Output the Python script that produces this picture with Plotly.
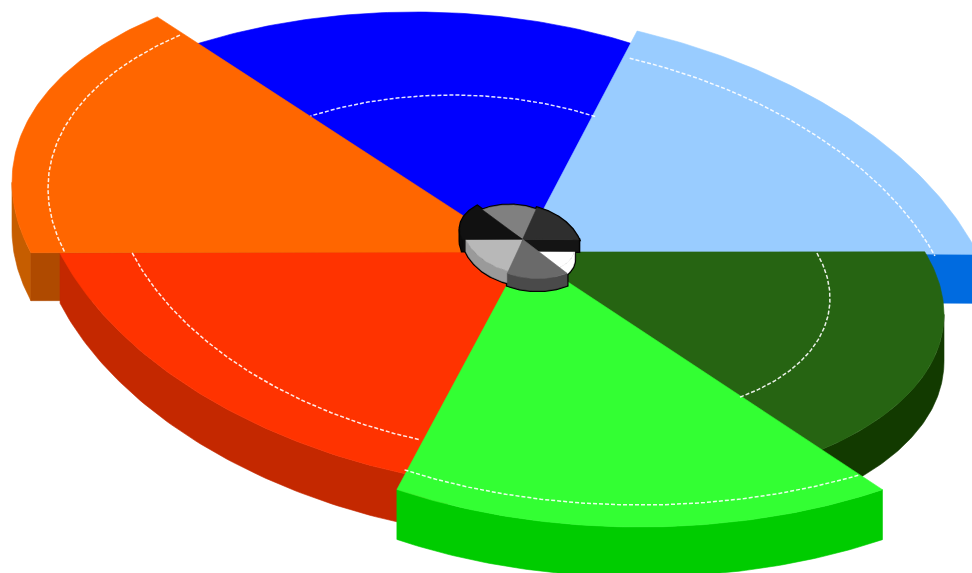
import numpy as np
import plotly.graph_objects as go

# Sector readings: angular extents (degrees)
sector_names = ["Orange", "Blue", "Light blue", "Dark green", "Green", "Red"]
theta_start = [133.7, 58.0, 76.0, 16.5, 237.3, 198.8]
theta_end = [196.3, 125.0, 17.8, -48.0, 302.6, 263.0]
ring_start = [134.1, 59.6, 75.7, 19.4, 236.8, 199.3]
ring_end = [196.1, 120.0, 19.8, -52.5, 300.7, 257.6]

# Drawing geometry (pixel-based), separate from the readings: cx, cy, a, b, shear
APEX = {"Orange": (519, 252), "Blue": (525, 252), "Light blue": (521, 252),
        "Dark green": (524, 252), "Green": (524, 253), "Red": (519, 252)}
ELLIPSE = {"Orange": (482, 220, 470, 245, 0.08), "Blue": (415, 252, 438, 240, 0),
           "Light blue": (521, 308, 480, 295, 0.08), "Dark green": (476, 277, 468, 215, 0.08),
           "Green": (640, 290, 450, 237, 0), "Red": (505, 194, 470, 294.5, 0.08)}
RING = {"Orange": (482, 223, 434, 228, 0.08), "Blue": (452, 252, 283, 157, 0),
        "Light blue": (521, 316, 440, 275, 0.08), "Dark green": (600, 280, 230, 133.5, 0.08),
        "Green": (640, 290, 430, 215, 0), "Red": (505, 199, 395, 253.5, 0.08)}
DEPTH = {"Orange": 48, "Light blue": 49, "Dark green": 47, "Green": 50, "Red": 50}
TOP = {"Orange": "#FF6600", "Blue": "#0000FF", "Light blue": "#99CCFF",
       "Dark green": "#266412", "Green": "#33FF33", "Red": "#FF3300"}
SIDE = {"Orange": "#C65D00", "Light blue": "#006BE0", "Dark green": "#123A00",
        "Green": "#00CC00", "Red": "#C42800"}
CUT = {"Orange": "#AF4A00", "Light blue": "#006BE0"}
MINI_TOP = {"Orange": "#111111", "Blue": "#808080", "Light blue": "#2E2E2E",
            "Dark green": "#FFFFFF", "Green": "#6A6A6A", "Red": "#B8B8B8"}
MINI_SIDE = {"Orange": "#0C0C0C", "Light blue": "#141414", "Dark green": "#FFFFFF",
             "Green": "#4A4A4A", "Red": "#9A9A9A"}
MINI_CUT = {"Orange": "#0C0C0C", "Light blue": "#141414"}
MINI_DEPTH_SCALE = 1.7

idx = {n: i for i, n in enumerate(sector_names)}


def arc(ell, t0, t1, n=80):
    cx, cy, a, b, k = ell
    t = np.radians(np.linspace(t0, t1, n))
    return cx + a * np.cos(t), cy - b * np.sin(t) + k * a * np.cos(t)


def top_poly(name):
    i = idx[name]
    x, y = arc(ELLIPSE[name], theta_start[i], theta_end[i])
    ax, ay = APEX[name]
    return np.r_[ax, x, ax], np.r_[ay, y, ay]


def side_poly(name, t0=None, t1=None, ds=1.0):
    i = idx[name]
    x, y = arc(ELLIPSE[name], theta_start[i] if t0 is None else t0,
               theta_end[i] if t1 is None else t1)
    d = DEPTH[name] * ds
    return np.r_[x, x[::-1], x[0]], np.r_[y, y[::-1] + d, y[0]]


def cut_poly(name, t, ds=1.0):
    x, y = arc(ELLIPSE[name], t, t, 1)
    ax, ay = APEX[name]
    d = DEPTH[name] * ds
    return np.array([ax, x[0], x[0], ax, ax]), np.array([ay, y[0], y[0] + d, ay + d, ay])


def layers(ds=1.0, band_over_right=False):
    # painter's order: (polygon, role, sector)
    lb_cut = (cut_poly("Light blue", theta_end[idx["Light blue"]], ds), "cut", "Light blue")
    lb_top = (top_poly("Light blue"), "top", "Light blue")
    dg_side = (side_poly("Dark green", 0, None, ds), "side", "Dark green")
    dg_top = (top_poly("Dark green"), "top", "Dark green")
    right = [dg_side, dg_top, lb_cut, lb_top] if band_over_right else [lb_cut, lb_top, dg_side, dg_top]
    out = [
        (side_poly("Orange", 180, theta_end[idx["Orange"]], ds), "side", "Orange"),
        (cut_poly("Orange", theta_end[idx["Orange"]], ds), "cut", "Orange"),
        (top_poly("Blue"), "top", "Blue"),
    ] + right + [
        (side_poly("Red", ds=ds), "side", "Red"),
        (top_poly("Red"), "top", "Red"),
        (top_poly("Orange"), "top", "Orange"),
        (side_poly("Green", ds=ds), "side", "Green"),
        (top_poly("Green"), "top", "Green"),
    ]
    return out


fig = go.Figure()


def add_poly(x, y, color, line_color=None, line_width=0):
    fig.add_trace(go.Scatter(x=x, y=y, mode="lines", fill="toself", fillcolor=color,
                             line=dict(color=line_color or color, width=line_width or 0.6),
                             hoverinfo="skip", showlegend=False))


for (x, y), role, name in layers():
    color = {"top": TOP, "side": SIDE, "cut": CUT}[role][name]
    add_poly(x, y, color)

for name in sector_names:
    i = idx[name]
    x, y = arc(RING[name], ring_start[i], ring_end[i], 120)
    fig.add_trace(go.Scatter(x=x, y=y, mode="lines",
                             line=dict(color="rgba(255,255,255,0.9)", width=1.5, dash="4px,2px"),
                             hoverinfo="skip", showlegend=False))


# Small grey copy of the same disc in the middle
def mini(x, y):
    return 460 + (np.asarray(x) - 12) * 0.123, 205 + (np.asarray(y) - 12) * 0.143


MINI_LAYERS = layers(MINI_DEPTH_SCALE, True)
for (x, y), role, name in MINI_LAYERS:
    mx, my = mini(x, y)
    add_poly(mx, my, "#000000", "#000000", 3)
for (x, y), role, name in MINI_LAYERS:
    mx, my = mini(x, y)
    color = {"top": MINI_TOP, "side": MINI_SIDE, "cut": MINI_CUT}[role][name]
    add_poly(mx, my, color)

fig.update_layout(
    width=972, height=573, margin=dict(l=0, r=0, t=0, b=0),
    paper_bgcolor="white", plot_bgcolor="white", showlegend=False,
    xaxis=dict(range=[0, 972], visible=False, fixedrange=True),
    yaxis=dict(range=[573, 0], visible=False, fixedrange=True),
)
fig.write_html("out.html", config={"displayModeBar": False},
               post_script="document.body.style.margin='0';")
